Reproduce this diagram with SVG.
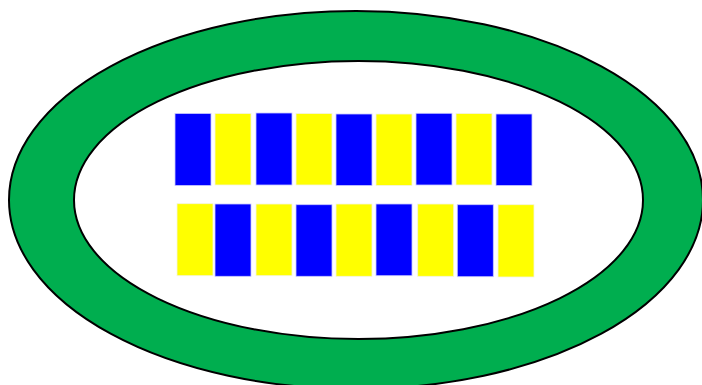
<svg xmlns="http://www.w3.org/2000/svg" width="702" height="385" viewBox="0 0 702 385">
<style>
.b{fill:#0000FF;stroke:#C8C8FF;stroke-width:0.8}
.y{fill:#FFFF00;stroke:#F4F4E0;stroke-width:0.8}
</style>
<rect width="702" height="385" fill="#FFFFFF"/>
<g id="ring">
<ellipse cx="356" cy="200" rx="347" ry="189" fill="#00AE4F" stroke="#000" stroke-width="2"/>
<ellipse cx="358.5" cy="200" rx="284.5" ry="139" fill="#FFFFFF" stroke="#000" stroke-width="2"/>
</g>
<g id="row1">
<rect class="b" x="175" y="113.5" width="36" height="72"/>
<rect class="y" x="215" y="113.5" width="36" height="71.5"/>
<rect class="b" x="256" y="113" width="36" height="72"/>
<rect class="y" x="296" y="113.5" width="36" height="71.5"/>
<rect class="b" x="336" y="114" width="36" height="71.5"/>
<rect class="y" x="376" y="114" width="36" height="71.5"/>
<rect class="b" x="416" y="113.3" width="36" height="71.7"/>
<rect class="y" x="456" y="113.5" width="36" height="71.5"/>
<rect class="b" x="496" y="114" width="36" height="71.5"/>
</g>
<g id="row2">
<rect class="y" x="177" y="203.7" width="36" height="72"/>
<rect class="b" x="215" y="204" width="36" height="72.3"/>
<rect class="y" x="256" y="204" width="36" height="71.7"/>
<rect class="b" x="296" y="204.7" width="36" height="71.6"/>
<rect class="y" x="336" y="204" width="36" height="72.3"/>
<rect class="b" x="376" y="204" width="36" height="71.7"/>
<rect class="y" x="417.7" y="204" width="36" height="72.3"/>
<rect class="b" x="457.3" y="204.7" width="36" height="72"/>
<rect class="y" x="498" y="204.7" width="36" height="72.3"/>
</g>
</svg>
